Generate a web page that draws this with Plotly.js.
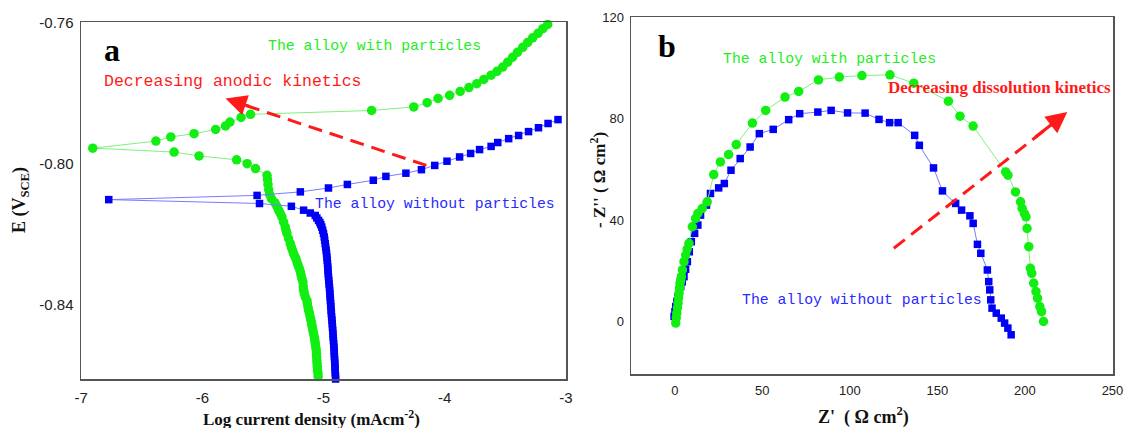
<!DOCTYPE html>
<html>
<head>
<meta charset="utf-8">
<script src="https://cdn.plot.ly/plotly-3.0.1.min.js"></script>
<style>html,body{margin:0;padding:0;background:#fff;}#chart{width:1128px;height:428px;}</style>
</head>
<body>
<div id="chart"></div>
<script>
// ---------- Panel a : polarization curves (log i, E) ----------
const aWithX = [-5.041,-5.044,-5.046,-5.049,-5.051,-5.053,-5.055,-5.057,-5.058,-5.060,-5.064,-5.068,-5.072,-5.076,-5.082,-5.088,-5.093,-5.098,-5.104,-5.110,-5.116,-5.123,-5.128,-5.133,-5.137,-5.150,-5.158,-5.164,-5.167,-5.170,-5.178,-5.185,-5.191,-5.200,-5.210,-5.219,-5.228,-5.238,-5.247,-5.256,-5.265,-5.274,-5.288,-5.302,-5.309,-5.315,-5.329,-5.343,-5.357,-5.370,-5.385,-5.400,-5.430,-5.445,-5.452,-5.458,-5.462,-5.466,-5.561,-5.630,-5.717,-6.027,-6.233,-6.904,-6.383,-6.260,-6.068,-5.890,-5.808,-5.772,-5.680,-5.602,-4.603,-4.255,-4.145,-4.055,-3.959,-3.872,-3.800,-3.735,-3.677,-3.617,-3.568,-3.521,-3.480,-3.440,-3.400,-3.356,-3.315,-3.274,-3.230,-3.190,-3.150,-3.100];
const aWithY = [-0.8616,-0.8605,-0.8595,-0.8587,-0.8577,-0.8568,-0.8559,-0.8549,-0.8540,-0.8530,-0.8521,-0.8511,-0.8502,-0.8493,-0.8483,-0.8474,-0.8464,-0.8455,-0.8445,-0.8436,-0.8426,-0.8417,-0.8408,-0.8398,-0.8389,-0.8379,-0.8370,-0.8360,-0.8350,-0.8337,-0.8327,-0.8317,-0.8308,-0.8298,-0.8289,-0.8280,-0.8270,-0.8263,-0.8256,-0.8247,-0.8238,-0.8228,-0.8214,-0.8199,-0.8190,-0.8181,-0.8167,-0.8152,-0.8142,-0.8133,-0.8122,-0.8112,-0.8100,-0.8088,-0.8075,-0.8060,-0.8046,-0.8034,-0.8015,-0.8001,-0.7990,-0.7979,-0.7968,-0.7957,-0.7937,-0.7925,-0.7916,-0.7904,-0.7894,-0.7883,-0.7870,-0.7861,-0.7850,-0.7840,-0.7828,-0.7816,-0.7807,-0.7796,-0.7785,-0.7774,-0.7762,-0.7750,-0.7739,-0.7727,-0.7713,-0.7699,-0.7685,-0.7671,-0.7657,-0.7644,-0.7631,-0.7618,-0.7606,-0.7590];
const aWithoutX = [-4.899,-4.900,-4.901,-4.903,-4.904,-4.905,-4.907,-4.908,-4.910,-4.911,-4.912,-4.914,-4.916,-4.918,-4.920,-4.922,-4.924,-4.926,-4.928,-4.930,-4.933,-4.935,-4.937,-4.939,-4.941,-4.943,-4.945,-4.947,-4.949,-4.951,-4.954,-4.956,-4.959,-4.961,-4.963,-4.965,-4.967,-4.969,-4.972,-4.975,-4.978,-4.982,-4.986,-4.990,-4.994,-5.000,-5.007,-5.014,-5.022,-5.030,-5.041,-5.055,-5.068,-5.109,-5.164,-5.265,-5.528,-6.772,-5.548,-5.191,-4.959,-4.803,-4.589,-4.485,-4.320,-4.192,-4.082,-3.981,-3.877,-3.786,-3.712,-3.617,-3.562,-3.472,-3.390,-3.308,-3.226,-3.147,-3.065];
const aWithoutY = [-0.8622,-0.8612,-0.8603,-0.8594,-0.8585,-0.8576,-0.8567,-0.8558,-0.8549,-0.8540,-0.8531,-0.8522,-0.8512,-0.8503,-0.8493,-0.8484,-0.8474,-0.8465,-0.8455,-0.8445,-0.8436,-0.8426,-0.8417,-0.8407,-0.8398,-0.8389,-0.8380,-0.8370,-0.8361,-0.8352,-0.8342,-0.8332,-0.8322,-0.8313,-0.8303,-0.8294,-0.8285,-0.8275,-0.8266,-0.8256,-0.8247,-0.8238,-0.8228,-0.8218,-0.8209,-0.8199,-0.8190,-0.8181,-0.8174,-0.8168,-0.8162,-0.8155,-0.8148,-0.8141,-0.8133,-0.8122,-0.8114,-0.8103,-0.8091,-0.8081,-0.8070,-0.8060,-0.8048,-0.8037,-0.8028,-0.8018,-0.8006,-0.7994,-0.7982,-0.7972,-0.7961,-0.7952,-0.7941,-0.7930,-0.7921,-0.7910,-0.7899,-0.7887,-0.7876];

// ---------- Panel b : Nyquist plots (Z', -Z'') ----------
const bWithX = [0.57,0.85,1.13,1.53,1.87,2.15,2.43,2.72,3.00,3.40,3.79,4.36,5.27,6.23,7.08,8.10,10.02,11.89,13.19,15.69,18.52,22.25,26.05,30.75,35.11,44.34,51.93,62.97,70.78,82.1,94.0,106.9,122.9,136.5,156.3,162.9,170.4,189.0,190.3,194.6,197.5,198.4,199.7,200.6,201.2,202.2,203.1,203.9,205.0,206.3,207.2,208.5,209.5,210.6];
const bWithY = [-0.63,1.46,3.30,5.39,7.24,9.32,11.17,13.25,15.10,16.40,17.70,20.33,23.60,26.23,28.59,30.84,37.37,40.67,42.64,44.60,47.20,57.97,62.93,65.84,69.77,78.27,83.26,88.50,90.74,95.3,96.4,97.0,97.3,94.0,86.9,81.0,77.1,59.0,57.7,51.1,47.2,44.6,42.6,41.3,36.7,29.5,21.0,19.0,15.1,11.8,9.2,5.9,3.9,0.0];
const bWithoutX = [-0.40,0.10,0.57,1.20,1.87,2.60,3.40,4.30,5.27,6.20,7.19,8.30,9.46,11.33,13.19,14.72,18.12,20.39,25.08,28.31,32.11,37.37,43.04,48.30,56.23,65.06,71.35,81.71,89.30,98.70,108.72,116.65,122.71,127.58,137.03,139.69,147.79,152.89,160.42,163.82,168.57,170.44,172.88,174.80,178.54,179.33,179.90,180.46,181.20,183.63,186.47,188.39,190.26,192.13];
const bWithoutY = [1.97,3.90,5.90,7.90,9.83,11.80,13.77,15.70,17.70,20.60,23.60,27.50,31.47,34.77,38.03,41.97,45.90,50.50,52.70,54.43,59.67,64.27,68.83,74.10,75.79,79.61,81.97,82.60,83.27,82.28,82.20,79.72,78.43,78.43,73.43,69.50,60.57,51.52,46.57,43.93,41.69,38.70,30.44,26.90,20.33,15.73,12.47,8.54,5.27,3.30,1.34,-0.63,-2.60,-5.23];

// ---------- ticks ----------
const aXTicks = [-7,-6,-5,-4,-3];
const aXTickText = ['-7','-6','-5','-4','-3'];
const aYTicks = [-0.84,-0.80,-0.76];
const aYTickText = ['-0.84','-0.80','-0.76'];
const bXTicks = [0,50,100,150,200,250];
const bYTicks = [0,40,80,120];

const GREEN = '#12ee12', GREENLINE = '#7ef27e';
const BLUE = '#0000f5', BLUELINE = '#7a7aff';
const RED = '#ff1a1a';
const MONO = '"Liberation Mono", "DejaVu Sans Mono", monospace';
const SERIF = '"Liberation Serif", "Times New Roman", serif';
const SANS = '"Liberation Sans", Arial, sans-serif';

function tr(x, y, xa, ya, color, lineColor, symbol, size) {
  return {x: x, y: y, xaxis: xa, yaxis: ya, type: 'scatter', mode: 'lines+markers',
    line: {color: lineColor, width: 1},
    marker: {color: color, symbol: symbol, size: size, line: {width: 0}},
    cliponaxis: false, showlegend: false, hoverinfo: 'skip'};
}

const data = [
  tr(aWithX, aWithY, 'x', 'y', GREEN, GREENLINE, 'circle', 9.5),
  tr(aWithoutX, aWithoutY, 'x', 'y', BLUE, BLUELINE, 'square', 7.5),
  tr(bWithoutX, bWithoutY, 'x2', 'y2', BLUE, BLUELINE, 'square', 7.5),
  tr(bWithX, bWithY, 'x2', 'y2', GREEN, GREENLINE, 'circle', 9.5)
];

const axBase = {showgrid: false, zeroline: false, showline: true, mirror: true,
  linecolor: '#555', linewidth: 1.5, ticks: '', tickmode: 'array', ticklabelstandoff: 4};

const W = 1128, H = 428;
function ann(x, y, text, font, extra) {
  return Object.assign({xref: 'paper', yref: 'paper', x: x / W, y: 1 - y / H, text: text,
    showarrow: false, xanchor: 'center', yanchor: 'middle', font: font}, extra || {});
}
function dann(xr, yr, x, y, text, font) {
  return {xref: xr, yref: yr, x: x, y: y, text: text, showarrow: false,
    xanchor: 'center', yanchor: 'middle', font: font};
}

const layout = {
  width: W, height: H,
  margin: {l: 0, r: 0, t: 0, b: 0},
  paper_bgcolor: '#fff', plot_bgcolor: '#fff',
  showlegend: false,
  xaxis: Object.assign({}, axBase, {domain: [81/W, 566/W], range: [-7.001, -2.999],
    tickvals: aXTicks, ticktext: aXTickText, tickfont: {family: SANS, size: 15, color: '#222'}, anchor: 'y'}),
  yaxis: Object.assign({}, axBase, {domain: [(H-379)/H, (H-22)/H], range: [-0.8612, -0.7599],
    tickvals: aYTicks, ticktext: aYTickText, tickfont: {family: SANS, size: 15, color: '#222'}, anchor: 'x', ticklabelstandoff: 3}),
  xaxis2: Object.assign({}, axBase, {domain: [631/W, 1113/W], range: [-25, 250.3],
    tickvals: bXTicks, tickfont: {family: SANS, size: 13, color: '#222'}, anchor: 'y2', ticklabelstandoff: 4}),
  yaxis2: Object.assign({}, axBase, {domain: [(H-374)/H, (H-17)/H], range: [-20.7, 120.1],
    tickvals: bYTicks, tickfont: {family: SANS, size: 13, color: '#222'}, anchor: 'x2', ticklabelstandoff: 3}),
  shapes: [
    {type: 'line', xref: 'x', yref: 'y', x0: -4.151, y0: -0.8006, x1: -5.70, y1: -0.7829,
      line: {color: RED, width: 3, dash: '14px,8px'}},
    {type: 'line', xref: 'x2', yref: 'y2', x0: 125.1, y0: 28.9, x1: 215, y1: 77.5,
      line: {color: RED, width: 3, dash: '14px,8px'}}
  ],
  annotations: [
    // arrow heads
    {xref: 'x', yref: 'y', axref: 'x', ayref: 'y', x: -5.808, y: -0.7816, ax: -5.60, ay: -0.7840,
      text: '', showarrow: true, arrowhead: 2, arrowsize: 1.4, arrowwidth: 3, arrowcolor: RED, standoff: 0},
    {xref: 'x2', yref: 'y2', axref: 'x2', ayref: 'y2', x: 224.2, y: 82.6, ax: 205, ay: 72.2,
      text: '', showarrow: true, arrowhead: 2, arrowsize: 1.4, arrowwidth: 3, arrowcolor: RED, standoff: 0},
    // panel labels
    dann('x', 'y', -6.742, -0.7679, '<b>a</b>', {family: SERIF, size: 32, color: '#000'}),
    dann('x2', 'y2', -4.5, 108.8, '<b>b</b>', {family: SERIF, size: 32, color: '#000'}),
    // texts panel a
    dann('x', 'y', -4.581, -0.7667, 'The alloy with particles', {family: MONO, size: 14.8, color: '#22ee22'}),
    dann('x', 'y', -5.748, -0.7767, 'Decreasing anodic kinetics', {family: MONO, size: 16.5, color: RED}),
    dann('x', 'y', -4.080, -0.8116, 'The alloy without particles', {family: MONO, size: 14.8, color: '#2a2aff'}),
    // texts panel b
    dann('x2', 'y2', 88.3, 103.7, 'The alloy with particles', {family: MONO, size: 14.8, color: '#22ee22'}),
    dann('x2', 'y2', 185.5, 92.4, '<b>Decreasing dissolution kinetics</b>', {family: SERIF, size: 17, color: RED}),
    dann('x2', 'y2', 107.0, 8.3, 'The alloy without particles', {family: MONO, size: 14.8, color: '#2a2aff'}),
    // axis titles
    ann(20, 200, '<b>E (V<sub>SCE</sub>)</b>', {family: SERIF, size: 18, color: '#111'}, {textangle: -90}),
    ann(311, 418, '<b>Log current density (mAcm<sup>-2</sup>)</b>', {family: SERIF, size: 17, color: '#111'}),
    ann(598, 180, "<b>- Z'' ( Ω cm<sup>2</sup>)</b>", {family: SERIF, size: 17, color: '#111'}, {textangle: -90}),
    ann(863, 416, "<b>Z'&nbsp;&nbsp;( Ω cm<sup>2</sup>)</b>", {family: SERIF, size: 18, color: '#111'})
  ]
};

Plotly.newPlot('chart', data, layout, {displayModeBar: false, staticPlot: true});
</script>
</body>
</html>
